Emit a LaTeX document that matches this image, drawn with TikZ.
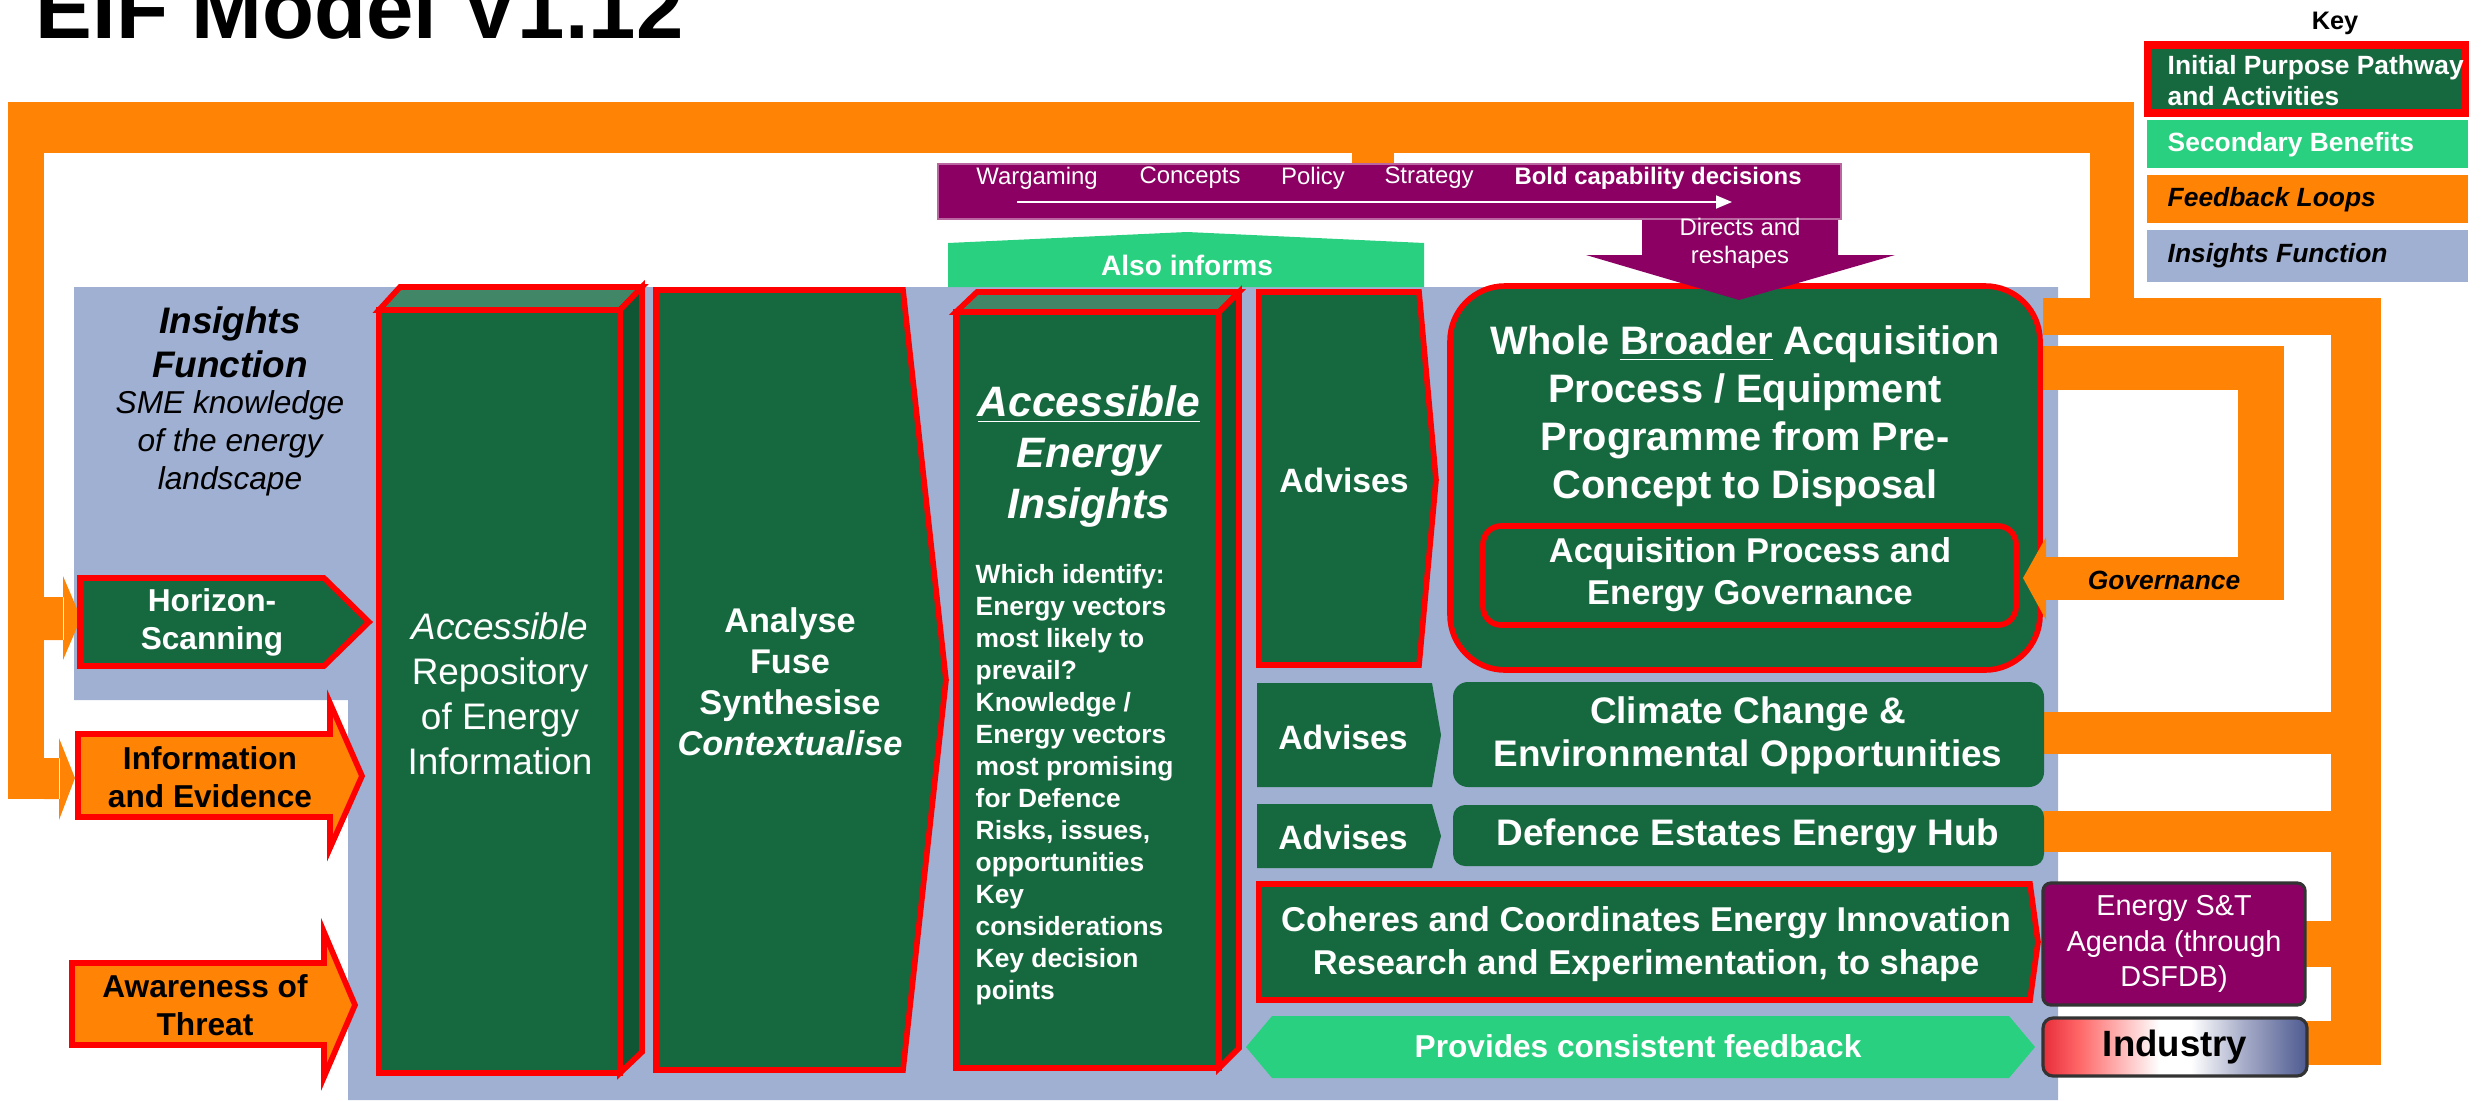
\documentclass[tikz,border=0pt]{standalone}
\usepackage{fontspec}
\setmainfont{Liberation Sans}
\usepackage{tikz}
\usetikzlibrary{arrows.meta}
\definecolor{eifgreen}{RGB}{22,105,63}
\definecolor{eiftop}{RGB}{66,134,104}
\definecolor{eifside}{RGB}{17,86,52}
\definecolor{eiforange}{RGB}{255,132,5}
\definecolor{eifblue}{RGB}{160,176,210}
\definecolor{eifmint}{RGB}{41,208,128}
\definecolor{eifpurple}{RGB}{139,0,98}
\definecolor{eifred}{RGB}{255,0,0}
\definecolor{indred}{RGB}{232,45,58}
\definecolor{indpink}{RGB}{255,105,105}
\definecolor{indslate}{RGB}{78,90,145}
\pgfdeclarehorizontalshading{industryshade}{100bp}{color(0bp)=(indred); color(25bp)=(indred); color(32bp)=(indpink); color(47bp)=(white); color(53bp)=(white); color(63bp)=(indslate!50!white); color(75bp)=(indslate); color(100bp)=(indslate)}
\newcommand{\eifsize}[2]{\fontsize{#1pt}{#2pt}\selectfont}
\tikzstyle{pathway} = [draw=eifred, line width=1.6pt, fill=eifgreen]
\tikzstyle{feedback} = [fill=eiforange]
\tikzstyle{plainbox} = [fill=eifgreen]
\tikzstyle{boxtext} = [inner sep=0pt, align=center, text=white]
\tikzstyle{darktext} = [inner sep=0pt, align=center, text=black]

\begin{document}
\begin{tikzpicture}[x=0.01cm, y=-0.01cm]
	\useasboundingbox (0,0) rectangle (2483,1100);

	%--Title--%
	\node(title)[anchor=base west, darktext, font=\eifsize{24.2}{29}\bfseries] at (35,38) {EIF Model V1.12};

	%--Insights Function Area--%
	\fill[eifblue] (74,287) -- (2058,287) -- (2058,1100) -- (348,1100) -- (348,700) -- (74,700) -- cycle;

	%--Feedback Loops--%
	\fill[feedback] (8,102) rectangle (2134,153);
	\fill[feedback] (8,102) rectangle (44,799);
	\fill[feedback] (1352,150) rectangle (1394,166);
	\fill[feedback] (2090,150) rectangle (2134,300);
	\fill[feedback] (2043,298) rectangle (2381,335);
	\fill[feedback] (2331,298) rectangle (2381,1065);
	\fill[feedback] (2043,712) rectangle (2335,754);
	\fill[feedback] (2043,811) rectangle (2335,852);
	\fill[feedback] (2300,921) rectangle (2335,967);
	\fill[feedback] (2300,1021) rectangle (2335,1065);
	\fill[feedback] (44,597) rectangle (64,640) (63,576) -- (81,618) -- (63,660) -- cycle;
	\fill[feedback] (44,758) rectangle (60,799) (59,738) -- (75,778) -- (59,820) -- cycle;
	\fill[feedback] (2043,346) rectangle (2284,390);
	\fill[feedback] (2238,346) rectangle (2284,600);
	\fill[feedback] (2046,557) rectangle (2284,600);

	%--Inputs--%
	\draw[pathway] (80,578) -- (324,578) -- (369,622) -- (324,666) -- (80,666) -- cycle;
	\node(horizon)[boxtext, font=\eifsize{9}{10.8}\bfseries] at (212,622) {Horizon-\\Scanning};
	\draw[pathway, fill=eiforange] (78,734) -- (330,734) -- (330,703) -- (362,776) -- (330,848) -- (330,817) -- (78,817) -- cycle;
	\node(info)[darktext, font=\eifsize{9}{10.8}\bfseries] at (210,777) {Information\\and Evidence};
	\draw[pathway, fill=eiforange] (72,963) -- (324,963) -- (324,932) -- (355,1005) -- (324,1077) -- (324,1045) -- (72,1045) -- cycle;
	\node(threat)[darktext, font=\eifsize{9}{10.8}\bfseries] at (205,1005) {Awareness of\\Threat};

	%--Repository--%
	\draw[pathway, fill=eiftop] (379,310) -- (400,287) -- (642,287) -- (620,310) -- cycle;
	\draw[pathway, fill=eifside] (620,310) -- (642,287) -- (642,1052) -- (620,1073) -- cycle;
	\draw[pathway] (379,310) rectangle (620,1073);
	\node(repo)[boxtext, font=\eifsize{10.5}{12.8}] at (500,694) {\textit{Accessible}\\Repository\\of Energy\\Information};

	%--Analyse--%
	\draw[pathway] (656,290) -- (903,290) -- (946,680) -- (903,1070) -- (656,1070) -- cycle;
	\node(analyse)[boxtext, font=\eifsize{9.75}{11.7}\bfseries] at (790,682) {Analyse\\Fuse\\Synthesise\\\textit{Contextualise}};

	%--Secondary Benefit--%
	\fill[eifmint] (948,287) -- (948,243) -- (1187,232) -- (1424,243) -- (1424,287) -- cycle;
	\node(alsoinforms)[boxtext, font=\eifsize{8}{9.6}\bfseries] at (1187,265) {Also informs};

	%--Energy Insights--%
	\draw[pathway, fill=eiftop] (956,312) -- (977,292) -- (1239,292) -- (1219,312) -- cycle;
	\draw[pathway, fill=eifside] (1219,312) -- (1239,292) -- (1239,1048) -- (1219,1068) -- cycle;
	\draw[pathway] (956,312) rectangle (1219,1068);
	\node(aei)[boxtext, font=\eifsize{12.1}{14.5}\bfseries\itshape] at (1089,456) {\underline{Accessible}\\Energy\\Insights};
	\node(aeilist)[boxtext, align=left, anchor=north west, font=\eifsize{7.5}{9.1}\bfseries] at (975,564) {Which identify:\\Energy vectors\\most likely to\\prevail?\\Knowledge /\\Energy vectors\\most promising\\for Defence\\Risks, issues,\\opportunities\\Key\\considerations\\Key decision\\points};

	%--Advises--%
	\draw[pathway] (1259,292) -- (1419,292) -- (1436,480) -- (1419,665) -- (1259,665) -- cycle;
	\node(adv1)[boxtext, font=\eifsize{9.6}{11.5}\bfseries] at (1344,480) {Advises};
	\fill[plainbox] (1257,683) -- (1432,683) -- (1441,735) -- (1432,787) -- (1257,787) -- cycle;
	\node(adv2)[boxtext, font=\eifsize{9.6}{11.5}\bfseries] at (1343,737) {Advises};
	\fill[plainbox] (1257,804) -- (1432,804) -- (1441,836) -- (1432,868) -- (1257,868) -- cycle;
	\node(adv3)[boxtext, font=\eifsize{9.6}{11.5}\bfseries] at (1343,837) {Advises};

	%--Acquisition--%
	\draw[pathway, rounded corners=0.55cm] (1450,286) rectangle (2040,670);
	\node(wbap)[boxtext, font=\eifsize{11.3}{13.7}\bfseries] at (1745,416) {Whole \underline{Broader} Acquisition\\Process / Equipment\\Programme from Pre-\\Concept to Disposal};
	\draw[pathway, rounded corners=0.18cm] (1483,526) rectangle (2016,625);
	\node(apeg)[boxtext, font=\eifsize{9.8}{12}\bfseries] at (1750,575) {Acquisition Process and\\Energy Governance};
	\fill[feedback] (2046,537) -- (2023,578) -- (2046,620) -- cycle;
	\node(govern)[darktext, font=\eifsize{7.5}{9}\bfseries\itshape] at (2164,580) {Governance};

	%--Other Advised Bodies--%
	\fill[plainbox, rounded corners=0.15cm] (1453,682) rectangle (2044,787);
	\node(climate)[boxtext, font=\eifsize{10.5}{12.2}\bfseries] at (1748,735) {Climate Change \&\\Environmental Opportunities};
	\fill[plainbox, rounded corners=0.12cm] (1453,805) rectangle (2044,866);
	\node(estates)[boxtext, font=\eifsize{10.5}{12.2}\bfseries] at (1748,836) {Defence Estates Energy Hub};
	\draw[pathway] (1259,884) -- (2030,884) -- (2038,942) -- (2030,1000) -- (1259,1000) -- cycle;
	\node(coheres)[boxtext, font=\eifsize{9.8}{12}\bfseries] at (1646,944) {Coheres and Coordinates Energy Innovation\\Research and Experimentation, to shape};
	\fill[eifmint] (1246,1047) -- (1272,1016) -- (2009,1016) -- (2035,1047) -- (2009,1078) -- (1272,1078) -- cycle;
	\node(provides)[boxtext, font=\eifsize{9}{10.8}\bfseries] at (1638,1046) {Provides consistent feedback};

	%--S&T and Industry--%
	\node(sandt)[boxtext, draw=black!80, line width=0.9pt, fill=eifpurple, rounded corners=0.08cm, minimum width=2.62cm, minimum height=1.22cm, font=\eifsize{8.2}{10}] at (2174,944) {Energy S\&T\\Agenda (through\\DSFDB)};
	\shade[shading=industryshade, rounded corners=0.1cm] (2043,1018) rectangle (2307,1076);
	\draw[black!80, line width=0.9pt, rounded corners=0.1cm] (2043,1018) rectangle (2307,1076);
	\node(industry)[darktext, font=\eifsize{10.4}{12.5}\bfseries] at (2175,1047) {Industry};

	%--Decision Pathway--%
	\fill[eifpurple] (1642,215) -- (1838,215) -- (1838,255) -- (1895,255) -- (1739,300) -- (1586,255) -- (1642,255) -- cycle;
	\draw[fill=eifpurple, draw=eifpurple!60!white, line width=0.4pt] (938,164) rectangle (1841,219);
	\node(wargaming)[boxtext, font=\eifsize{6.8}{8}] at (1037,178) {Wargaming};
	\node(concepts)[boxtext, font=\eifsize{6.8}{8}] at (1190,178) {Concepts};
	\node(policy)[boxtext, font=\eifsize{6.8}{8}] at (1313,178) {Policy};
	\node(strategy)[boxtext, font=\eifsize{6.8}{8}] at (1429,178) {Strategy};
	\node(bold)[boxtext, font=\eifsize{6.8}{8}\bfseries] at (1658,178) {Bold capability decisions};
	\coordinate(wgstart) at (1017,202);
	\coordinate(wgend) at (1732,202);
	\draw[white, line width=0.5pt, -{Triangle[length=0.16cm, width=0.13cm]}] (wgstart) -- (wgend);
	\node(directs)[boxtext, font=\eifsize{6.8}{8}] at (1740,243) {Directs and\\reshapes};

	%--Key--%
	\node(key)[darktext, font=\eifsize{7.2}{8.6}\bfseries] at (2335,23) {Key};
	\draw[pathway, line width=2pt] (2147,45) rectangle (2465,113);
	\node(keyipp)[boxtext, align=left, anchor=west, font=\eifsize{7.5}{8.8}\bfseries] at (2167,81) {Initial Purpose Pathway\\and Activities};
	\fill[eifmint] (2147,120) rectangle (2468,168);
	\node(keysb)[boxtext, anchor=west, font=\eifsize{7.5}{8.8}\bfseries] at (2167,145) {Secondary Benefits};
	\fill[eiforange] (2147,175) rectangle (2468,223);
	\node(keyfl)[darktext, anchor=west, font=\eifsize{7.5}{8.8}\bfseries\itshape] at (2167,200) {Feedback Loops};
	\fill[eifblue] (2147,230) rectangle (2468,282);
	\node(keyif)[darktext, anchor=west, font=\eifsize{7.5}{8.8}\bfseries\itshape] at (2167,256) {Insights Function};

	%--Insights Function Labels--%
	\node(ifhead)[darktext, font=\eifsize{10.5}{12.5}\bfseries\itshape] at (230,342) {Insights\\Function};
	\node(ifsub)[darktext, font=\eifsize{9}{10.8}\itshape] at (230,443) {SME knowledge\\of the energy\\landscape};
\end{tikzpicture}
\end{document}
